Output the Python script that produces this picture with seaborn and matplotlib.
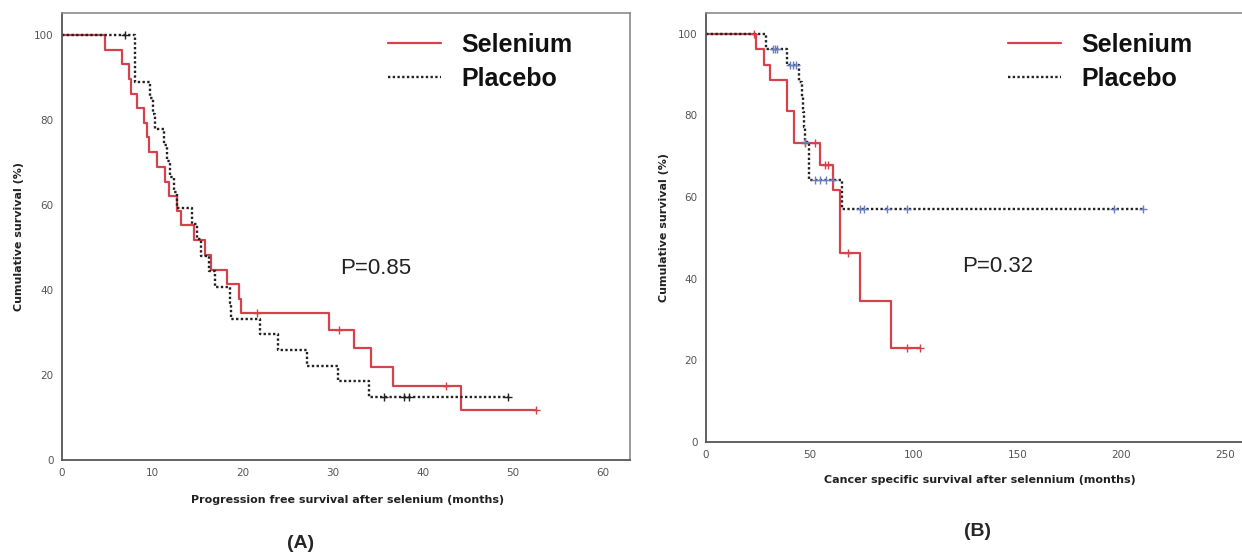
import numpy as np
import pandas as pd
import matplotlib
matplotlib.use('Agg')
import matplotlib.pyplot as plt
import seaborn as sns

# Panel A - progression free survival (step points: time, survival %)
pfs_sel_t = [0, 4.8, 6.6, 7.4, 7.6, 8.3, 9.1, 9.4, 9.6, 10.5, 11.4, 11.9, 12.7, 13.2, 14.6,
             15.9, 16.5, 18.3, 19.6, 19.8, 29.6, 32.4, 34.3, 36.7, 44.3, 52.6]
pfs_sel_s = [100, 96.6, 93.1, 89.7, 86.2, 82.8, 79.3, 75.9, 72.4, 69.0, 65.5, 62.1, 58.6, 55.2, 51.7,
             48.3, 44.8, 41.4, 37.9, 34.5, 30.7, 26.3, 21.9, 17.5, 11.7, 11.7]
pfs_sel_cens_t = [21.6, 30.7, 42.6, 52.6]
pfs_sel_cens_s = [34.5, 30.7, 17.5, 11.7]

pfs_pla_t = [0, 8.1, 9.8, 10.1, 10.3, 11.3, 11.6, 12.0, 12.4, 12.7, 14.4, 15.0, 15.4, 16.3,
             17.0, 18.6, 18.8, 22.0, 24.0, 27.2, 30.6, 34.0, 49.5]
pfs_pla_s = [100, 88.9, 85.2, 81.5, 77.8, 74.1, 70.4, 66.7, 63.0, 59.3, 55.6, 51.9, 48.1, 44.4,
             40.7, 37.0, 33.3, 29.6, 25.9, 22.2, 18.5, 14.8, 14.8]
pfs_pla_cens_t = [7.0, 35.7, 37.9, 38.5, 49.5]
pfs_pla_cens_s = [100, 14.8, 14.8, 14.8, 14.8]

# Panel B - cancer specific survival
css_sel_t = [0, 24.2, 28.0, 30.6, 39.0, 42.2, 55.1, 61.2, 64.4, 64.7, 74.0, 89.2, 103]
css_sel_s = [100, 96.2, 92.3, 88.8, 81.1, 73.2, 67.8, 61.8, 54.1, 46.3, 34.6, 23.1, 23.1]
css_sel_cens_t = [23.2, 47.8, 52.7, 57.5, 59.0, 68.3, 97, 103]
css_sel_cens_s = [100, 73.2, 73.2, 67.8, 67.8, 46.3, 23.1, 23.1]

css_pla_t = [0, 29.0, 39.0, 44.6, 46.2, 46.8, 47.3, 47.8, 49.4, 65.5, 210.5]
css_pla_s = [100, 96.3, 92.4, 88.3, 84.6, 80.9, 77.2, 73.6, 64.2, 57.0, 57.0]
css_pla_cens_t = [32.5, 33.3, 34.2, 40.6, 42.0, 43.3, 47.9, 52.7, 55.0, 58.0, 61.0,
                  74.4, 76.0, 87.3, 97.0, 196.5, 210.5]
css_pla_cens_s = [96.3, 96.3, 96.3, 92.4, 92.4, 92.4, 73.6, 64.2, 64.2, 64.2, 64.2,
                  57.0, 57.0, 57.0, 57.0, 57.0, 57.0]

RED = '#d7414b'
BLACK = '#222222'
BLUE = '#6a7fc0'

sns.set_style('white')
plt.rcParams['font.family'] = ['DejaVu Sans']

W, H = 1242, 555
fig = plt.figure(figsize=(W / 100, H / 100), dpi=100)


def px_axes(l, t, r, b):
    return fig.add_axes([l / W, 1 - b / H, (r - l) / W, (b - t) / H])


def draw_panel(ax, sel_t, sel_s, sel_ct, sel_cs, pla_t, pla_s, pla_ct, pla_cs, pla_cens_color):
    sns.lineplot(x=sel_t, y=sel_s, ax=ax, drawstyle='steps-post', estimator=None, sort=False,
                 color=RED, linewidth=1.6, label='Selenium')
    sns.lineplot(x=pla_t, y=pla_s, ax=ax, drawstyle='steps-post', estimator=None, sort=False,
                 color=BLACK, linewidth=1.7, dashes=False, label='Placebo')
    ax.lines[-1].set_linestyle((0, (1.0, 1.0)))
    sns.scatterplot(x=sel_ct, y=sel_cs, ax=ax, marker='+', color=RED, s=40, linewidth=1, zorder=5)
    sns.scatterplot(x=pla_ct, y=pla_cs, ax=ax, marker='+', color=pla_cens_color, s=40,
                    linewidth=1, zorder=5)
    for side in ['left', 'bottom']:
        ax.spines[side].set_color('#555555')
        ax.spines[side].set_linewidth(1.3)
    for side in ['top', 'right']:
        ax.spines[side].set_color('#8a8a8a')
        ax.spines[side].set_linewidth(1.2)
    ax.tick_params(axis='both', direction='out', length=4, width=1, color='#555555',
                   labelsize=7.5, labelcolor='#555555', pad=2)
    ax.set_yticks([0, 20, 40, 60, 80, 100])
    ax.set_ylabel('Cumulative survival (%)', fontsize=8, fontweight='bold', color='#222222')


# Panel A
axA = px_axes(62, 13, 630, 460)
draw_panel(axA, pfs_sel_t, pfs_sel_s, pfs_sel_cens_t, pfs_sel_cens_s,
           pfs_pla_t, pfs_pla_s, pfs_pla_cens_t, pfs_pla_cens_s, BLACK)
axA.set_xlim(0, 63.0)
axA.set_ylim(0, 105.2)
axA.set_xticks([0, 10, 20, 30, 40, 50, 60])
axA.set_xlabel('Progression free survival after selenium (months)', fontsize=8,
               fontweight='bold', color='#222222')
axA.xaxis.set_label_coords(0.5035, -0.0895)
axA.xaxis.label.set_va('center')
axA.yaxis.set_label_coords(-0.067, 0.501)
axA.text((340 - 62) / 568, (460 - 269) / 447, 'P=0.85', transform=axA.transAxes, fontsize=16,
         family='Liberation Sans', va='center', ha='left', color='#222222')

# Panel B
axB = px_axes(706, 13, 1242, 442)
draw_panel(axB, css_sel_t, css_sel_s, css_sel_cens_t, css_sel_cens_s,
           css_pla_t, css_pla_s, css_pla_cens_t, css_pla_cens_s, BLUE)
axB.set_xlim(0, 258.2)
axB.set_ylim(0, 105.1)
axB.set_xticks([0, 50, 100, 150, 200, 250])
axB.spines['right'].set_visible(False)
axB.set_xlabel('Cancer specific survival after selennium (months)', fontsize=8,
               fontweight='bold', color='#222222')
axB.xaxis.set_label_coords(0.511, -0.0886)
axB.xaxis.label.set_va('center')
axB.yaxis.set_label_coords(-0.069, 0.501)
axB.text((962 - 706) / 536, (442 - 266) / 429, 'P=0.32', transform=axB.transAxes, fontsize=16,
         family='Liberation Sans', va='center', ha='left', color='#222222')

# legends
for ax, x0 in [(axA, 388), (axB, 1008)]:
    leg = ax.legend(loc='upper left', bbox_to_anchor=(x0 / W, 1 - 33 / H),
                    bbox_transform=fig.transFigure, frameon=False, borderpad=0,
                    borderaxespad=0, handlelength=2.1, handletextpad=0.85, labelspacing=0.4,
                    prop={'family': 'Liberation Sans', 'weight': 'bold', 'size': 18})
    for txt in leg.get_texts():
        txt.set_color('#111111')

fig.text(301 / W, 1 - 543 / H, '(A)', fontsize=14, fontweight='bold', ha='center', va='center',
         family='Liberation Sans')
fig.text(977 / W, 1 - 532 / H, '(B)', fontsize=14, fontweight='bold', ha='center', va='center',
         family='Liberation Sans')

fig.savefig('out.png', dpi=100)
